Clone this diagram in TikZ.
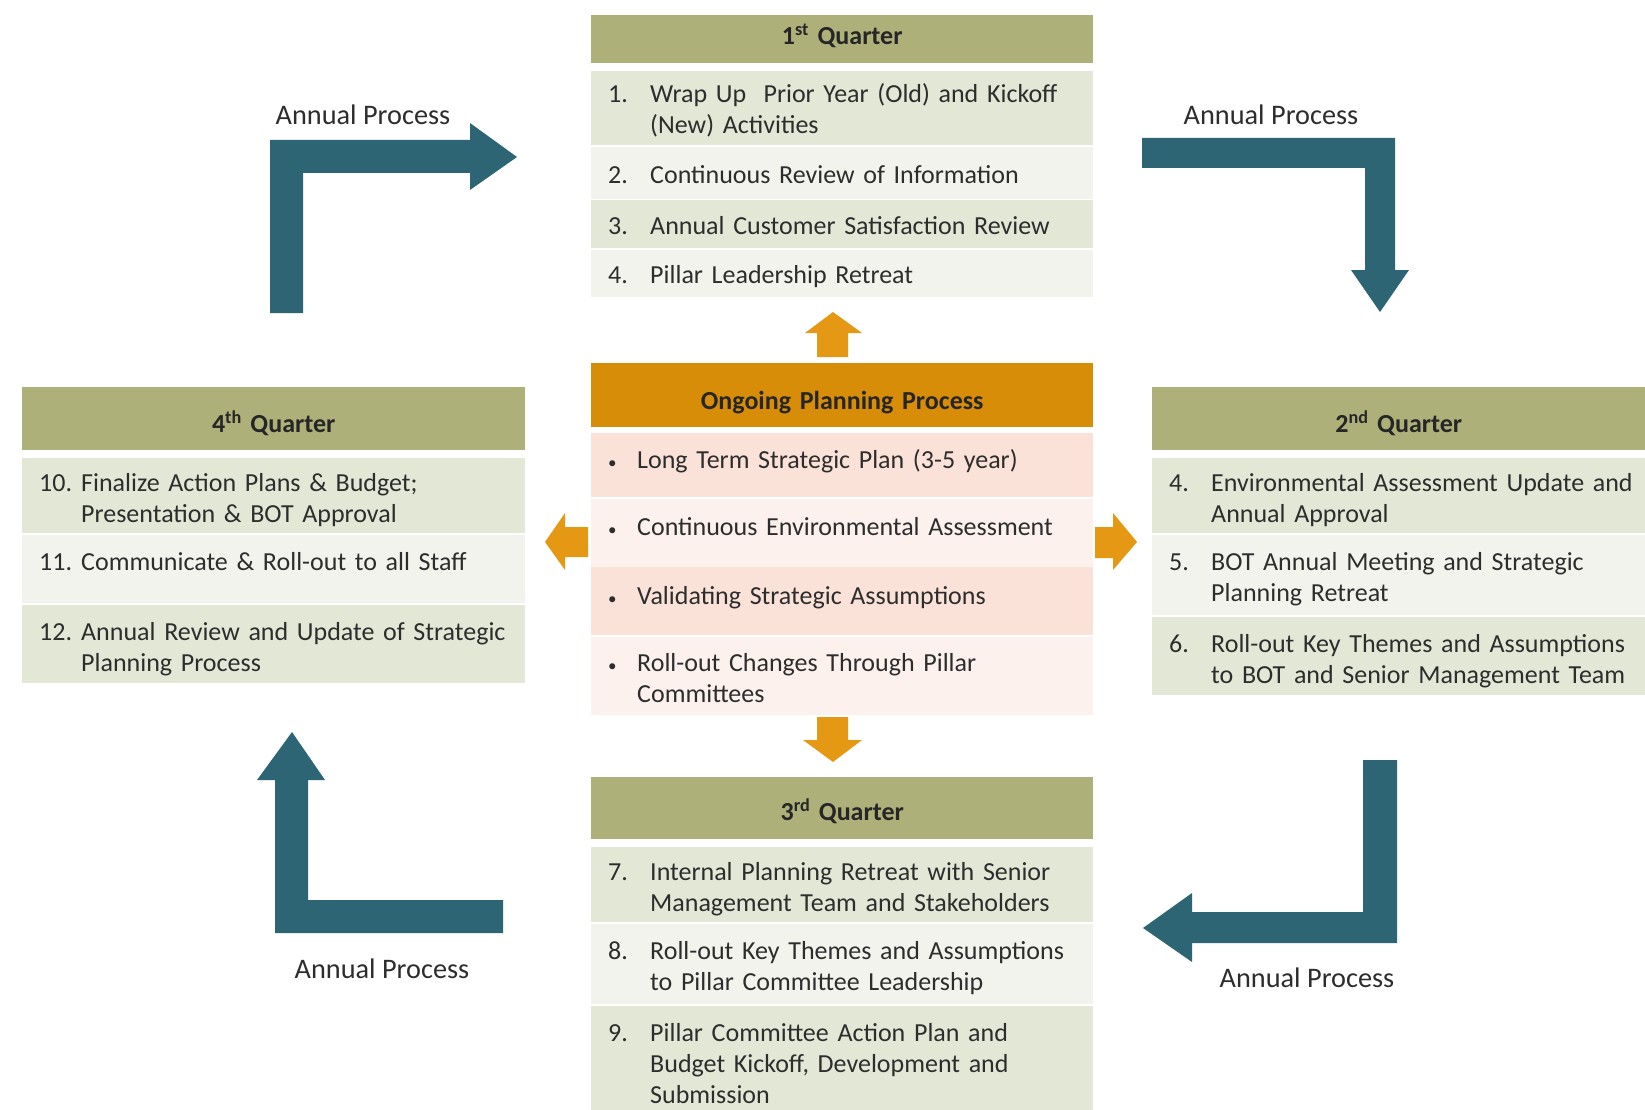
\documentclass[tikz,border=0pt]{standalone}
\usepackage{fontspec}
\setmainfont{Carlito}

\definecolor{hdrolive}{RGB}{173,176,121}
\definecolor{rowgreen}{RGB}{226,231,214}
\definecolor{rowpale}{RGB}{242,243,237}
\definecolor{hdrorange}{RGB}{216,141,8}
\definecolor{rowpink}{RGB}{251,226,216}
\definecolor{rowpinkpale}{RGB}{252,241,237}
\definecolor{arrteal}{RGB}{46,101,117}
\definecolor{arrorange}{RGB}{228,152,20}
\definecolor{textgray}{RGB}{45,45,45}

% numbered / bulleted entries, optional arg moves the text up or down in its row
\newcommand{\qitem}[3][0pt]{\raisebox{#1}[\height][\depth]{\makebox[42pt][l]{#2}\begin{tabular}[t]{@{}l@{}}#3\end{tabular}}}
\newcommand{\bitem}[2][0pt]{\raisebox{#1}[\height][\depth]{\makebox[29pt][l]{\fontsize{17}{20}\selectfont\textbullet}\begin{tabular}[t]{@{}l@{}}#2\end{tabular}}}
\newcommand{\hdr}[2][0pt]{\raisebox{#1}[\height][\depth]{#2}}

\begin{document}
\begin{tikzpicture}[x=1pt,y=-1pt,
    cell/.style={anchor=north west, inner xsep=17pt, inner ysep=0pt, align=left, text=textgray, font=\fontsize{26}{31}\selectfont},
    head/.style={anchor=north west, inner xsep=17pt, inner ysep=0pt, align=center, text=black!85, font=\fontsize{26}{31}\selectfont\bfseries},
    wmid/.style={minimum width=502pt, text width=468pt},
    wleft/.style={minimum width=503pt, text width=469pt},
    wright/.style={minimum width=493pt, text width=459pt},
    lbl/.style={anchor=base, text=textgray, font=\fontsize{28.3}{34}\selectfont}]
  \path[use as bounding box, fill=white] (0,0) rectangle (1645,1110);

  % 1st quarter
  \node[head, wmid, fill=hdrolive, minimum height=48pt] (q1h) at (591,15) {\hdr[3pt]{1\textsuperscript{st} Quarter}};
  \node[cell, wmid, fill=rowgreen, minimum height=74pt] (q1a) at (591,71) {\qitem[-4pt]{1.}{Wrap Up\ \ Prior Year (Old) and Kickoff\\(New) Activities}};
  \node[cell, wmid, fill=rowpale, minimum height=52pt] (q1b) at (591,147) {\qitem[-4pt]{2.}{Continuous Review of Information}};
  \node[cell, wmid, fill=rowgreen, minimum height=48pt] (q1c) at (591,200) {\qitem[-4pt]{3.}{Annual Customer Satisfaction Review}};
  \node[cell, wmid, fill=rowpale, minimum height=47pt] (q1d) at (591,250) {\qitem[-4pt]{4.}{Pillar Leadership Retreat}};

  % ongoing planning process
  \node[head, wmid, fill=hdrorange, minimum height=64pt] (oph) at (591,363) {\hdr[-7pt]{Ongoing Planning Process}};
  \node[cell, wmid, fill=rowpink, minimum height=64pt] (opa) at (591,433) {\bitem[3pt]{Long Term Strategic Plan (3-5 year)}};
  \node[cell, wmid, fill=rowpinkpale, minimum height=68pt] (opb) at (591,499) {\bitem[4pt]{Continuous Environmental Assessment}};
  \node[cell, wmid, fill=rowpink, minimum height=68pt] (opc) at (591,567) {\bitem[3pt]{Validating Strategic Assumptions}};
  \node[cell, wmid, fill=rowpinkpale, minimum height=78pt] (opd) at (591,637) {\bitem[-5pt]{Roll-out Changes Through Pillar\\Committees}};

  % 4th quarter
  \node[head, wleft, fill=hdrolive, minimum height=63pt] (q4h) at (22,387) {\hdr[-5pt]{4\textsuperscript{th} Quarter}};
  \node[cell, wleft, fill=rowgreen, minimum height=75pt] (q4a) at (22,458) {\qitem[-5pt]{10.}{Finalize Action Plans \& Budget;\\Presentation \& BOT Approval}};
  \node[cell, wleft, fill=rowpale, minimum height=68pt] (q4b) at (22,535) {\qitem[5pt]{11.}{Communicate \& Roll-out to all Staff}};
  \node[cell, wleft, fill=rowgreen, minimum height=78pt] (q4c) at (22,605) {\qitem[-6pt]{12.}{Annual Review and Update of Strategic\\Planning Process}};

  % 2nd quarter
  \node[head, wright, fill=hdrolive, minimum height=63pt] (q2h) at (1152,387) {\hdr[-5pt]{2\textsuperscript{nd} Quarter}};
  \node[cell, wright, fill=rowgreen, minimum height=75pt] (q2a) at (1152,458) {\qitem[-5pt]{4.}{Environmental Assessment Update and\\Annual Approval}};
  \node[cell, wright, fill=rowpale, minimum height=80pt] (q2b) at (1152,535) {\qitem[-5pt]{5.}{BOT Annual Meeting and Strategic\\Planning Retreat}};
  \node[cell, wright, fill=rowgreen, minimum height=78pt] (q2c) at (1152,617) {\qitem[-6pt]{6.}{Roll-out Key Themes and Assumptions\\to BOT and Senior Management Team}};

  % 3rd quarter
  \node[head, wmid, fill=hdrolive, minimum height=62pt] (q3h) at (591,777) {\hdr[-3pt]{3\textsuperscript{rd} Quarter}};
  \node[cell, wmid, fill=rowgreen, minimum height=75pt] (q3a) at (591,847) {\qitem[-5pt]{7.}{Internal Planning Retreat with Senior\\Management Team and Stakeholders}};
  \node[cell, wmid, fill=rowpale, minimum height=80pt] (q3b) at (591,924) {\qitem[-5pt]{8.}{Roll-out Key Themes and Assumptions\\to Pillar Committee Leadership}};
  \node[cell, wmid, fill=rowgreen, minimum height=104pt] (q3c) at (591,1006) {\qitem[-8pt]{9.}{Pillar Committee Action Plan and\\Budget Kickoff, Development and\\Submission}};

  % orange arrows out of the centre box
  \fill[arrorange] (817,357) -- (817,333) -- (805,333) -- (833,312) -- (862,333) -- (848,333) -- (848,357) -- cycle;
  \fill[arrorange] (817,717) -- (848,717) -- (848,740) -- (862,740) -- (833,762) -- (803,740) -- (817,740) -- cycle;
  \fill[arrorange] (588,527) -- (565,527) -- (565,513) -- (545,542) -- (565,570) -- (565,557) -- (588,557) -- cycle;
  \fill[arrorange] (1095,527) -- (1113,527) -- (1113,513) -- (1137,542) -- (1113,570) -- (1113,558) -- (1095,558) -- cycle;

  % annual process arrows
  \fill[arrteal] (270,313) -- (270,140) -- (470,140) -- (470,123) -- (517,157) -- (470,190) -- (470,173) -- (303,173) -- (303,313) -- cycle;
  \fill[arrteal] (1142,138) -- (1395,138) -- (1395,270) -- (1409,270) -- (1380,312) -- (1351,270) -- (1365,270) -- (1365,168) -- (1142,168) -- cycle;
  \fill[arrteal] (1397,760) -- (1397,943) -- (1192,943) -- (1192,962) -- (1143,928) -- (1192,893) -- (1192,912) -- (1363,912) -- (1363,760) -- cycle;
  \fill[arrteal] (292,732) -- (325,780) -- (308,780) -- (308,900) -- (503,900) -- (503,933) -- (275,933) -- (275,780) -- (257,780) -- cycle;

  \node[lbl] (apTL) at (363,125) {Annual Process};
  \node[lbl] (apTR) at (1271,125) {Annual Process};
  \node[lbl] (apBR) at (1307,987) {Annual Process};
  \node[lbl] (apBL) at (382,978) {Annual Process};
\end{tikzpicture}
\end{document}
